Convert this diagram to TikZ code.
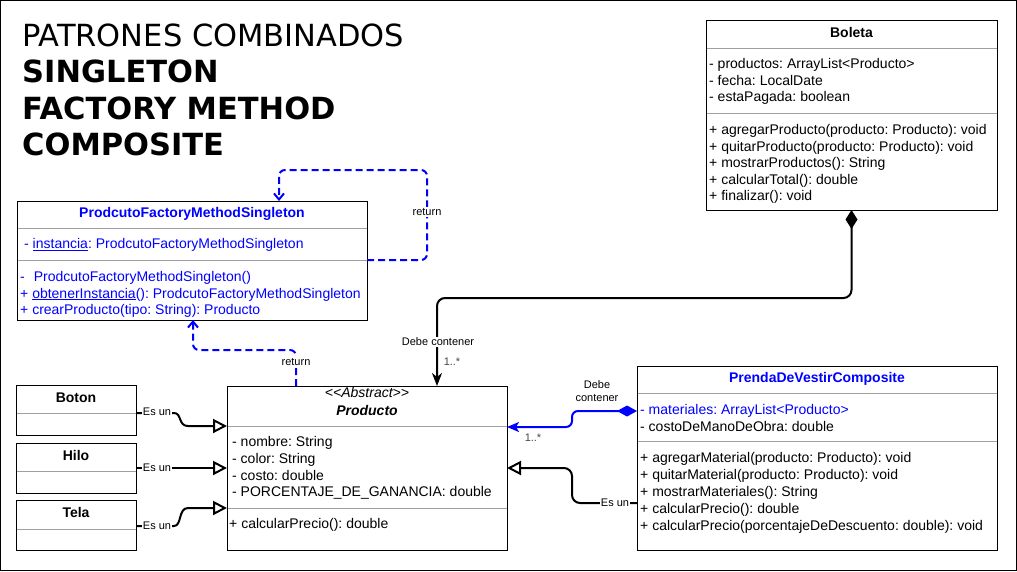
\documentclass[tikz,border=0pt]{standalone}
\usepackage{fontspec}
\setmainfont{Liberation Sans}
\newfontfamily\titlefont{DejaVu Sans}
\usetikzlibrary{arrows.meta}
\definecolor{umlblue}{RGB}{0,0,255}
\definecolor{sepgray}{RGB}{160,160,160}
\definecolor{multgray}{RGB}{70,70,70}
\frenchspacing
\begin{document}
\begin{tikzpicture}[x=1pt,y=-1pt,
  cls/.style={draw=black,line width=1pt,anchor=north west,inner sep=0pt,outer sep=0pt,fill=white},
  sepline/.style={draw=sepgray,line width=1pt},
  txt/.style={anchor=base west,inner sep=0pt,font=\fontsize{14}{16}\selectfont},
  ctxt/.style={anchor=base,inner sep=0pt,font=\fontsize{14}{16}\selectfont\bfseries},
  lbl/.style={font=\fontsize{11}{13}\selectfont,fill=white,inner sep=1pt,align=center},
  mult/.style={font=\fontsize{11}{13}\selectfont,text=multgray,inner sep=1pt},
  blkline/.style={draw=black,line width=2pt},
  bluedash/.style={draw=umlblue,line width=2pt,dash pattern=on 7pt off 4pt,rounded corners=6pt},
  genarrow/.style={-{Triangle[open,length=14pt,width=14pt]}},
  vee/.style={-{Straight Barb[length=6pt,width=10pt]}},
  ttl/.style={anchor=base west,inner sep=0pt,font=\titlefont\fontsize{30.5}{33}\selectfont},
  ttlb/.style={anchor=base west,inner sep=0pt,font=\titlefont\bfseries\fontsize{30.5}{33}\selectfont}
]
\useasboundingbox (0,0) rectangle (1017,571);
\node[draw=black,line width=1pt,anchor=north west,inner sep=0pt,outer sep=0pt,minimum width=1016pt,minimum height=570pt] (frame) at (0.5,0.5) {};

% Title
\node[ttl] (t1) at (22,46) {PATRONES COMBINADOS};
\node[ttlb] (t2) at (22,82) {SINGLETON};
\node[ttlb] (t3) at (22,119) {FACTORY METHOD};
\node[ttlb] (t4) at (22,155) {COMPOSITE};

% Boxes
\node[cls,minimum width=291pt,minimum height=190pt] (boleta) at (706,20) {};
\node[cls,minimum width=350pt,minimum height=119pt] (sing) at (17,201) {};
\node[cls,minimum width=280pt,minimum height=164pt] (prod) at (227,386) {};
\node[cls,minimum width=120pt,minimum height=50pt] (boton) at (16,385) {};
\node[cls,minimum width=120pt,minimum height=50pt] (hilo) at (16,443) {};
\node[cls,minimum width=120pt,minimum height=50pt] (tela) at (16,500) {};
\node[cls,minimum width=360pt,minimum height=184pt] (prenda) at (637,366) {};

% Separators
\draw[sepline] (706.5,48) -- (996.5,48);
\draw[sepline] (706.5,113) -- (996.5,113);
\draw[sepline] (17.5,228) -- (366.5,228);
\draw[sepline] (17.5,260) -- (366.5,260);
\draw[sepline] (227.5,426) -- (506.5,426);
\draw[sepline] (227.5,508) -- (506.5,508);
\draw[sepline] (16.5,413) -- (135.5,413);
\draw[sepline] (16.5,471) -- (135.5,471);
\draw[sepline] (16.5,529) -- (135.5,529);
\draw[sepline] (637.5,393) -- (996.5,393);
\draw[sepline] (637.5,441) -- (996.5,441);

% Boleta
\node[ctxt] (boletaT) at (851.5,37) {Boleta};
\foreach \t [count=\i] in {- productos: ArrayList<Producto>, - fecha: LocalDate, - estaPagada: boolean}
  \node[txt,name=batt\i] at (709,{68.5+(\i-1)*16.5}) {\t};
\foreach \t [count=\i] in {+ agregarProducto(producto: Producto): void, + quitarProducto(producto: Producto): void, + mostrarProductos(): String, + calcularTotal(): double, + finalizar(): void}
  \node[txt,name=bmet\i] at (709,{134.5+(\i-1)*16.5}) {\t};

% Singleton
\node[ctxt,text=umlblue] (singT) at (192,217) {ProdcutoFactoryMethodSingleton};
\node[txt,text=umlblue] (satt1) at (24,248.5) {- \underline{instancia}: ProdcutoFactoryMethodSingleton};
\node[txt,text=umlblue] (smet1) at (20,281.5) {-\hspace{9pt}ProdcutoFactoryMethodSingleton()};
\node[txt,text=umlblue] (smet2) at (20,298) {+ \underline{obtenerInstancia}(): ProdcutoFactoryMethodSingleton};
\node[txt,text=umlblue] (smet3) at (20,314.5) {+ crearProducto(tipo: String): Producto};

% Producto
\node[anchor=base,inner sep=0pt,font=\fontsize{14}{16}\selectfont\itshape] (prodS) at (367,397.5) {<{}<Abstract>{}>};
\node[ctxt,font=\fontsize{14}{16}\selectfont\bfseries\itshape] (prodT) at (367,415.5) {Producto};
\foreach \t [count=\i] in {- nombre: String, - color: String, - costo: double, - PORCENTAJE\_DE\_GANANCIA: double}
  \node[txt,name=patt\i] at (232,{446.5+(\i-1)*16.8}) {\t};
\node[txt] (pmet1) at (229,528.5) {+ calcularPrecio(): double};

% Small classes
\node[ctxt] (botonT) at (76,402) {Boton};
\node[ctxt] (hiloT) at (76,460) {Hilo};
\node[ctxt] (telaT) at (76,517) {Tela};

% Prenda
\node[ctxt,text=umlblue] (prendaT) at (817,382) {PrendaDeVestirComposite};
\node[txt,text=umlblue] (pratt1) at (640,414) {- materiales: ArrayList<Producto>};
\node[txt] (pratt2) at (640,431) {- costoDeManoDeObra: double};
\foreach \t [count=\i] in {+ agregarMaterial(producto: Producto): void, + quitarMaterial(producto: Producto): void, + mostrarMateriales(): String, + calcularPrecio(): double, + calcularPrecio(porcentajeDeDescuento: double): void}
  \node[txt,name=prmet\i] at (640,{462+(\i-1)*17}) {\t};

% Connectors
% Boleta -> Producto (composition)
\draw[blkline,rounded corners=8pt,{Diamond[length=19pt,width=12pt]}-{Stealth[length=13pt,width=10pt,inset=4pt]}]
  (boleta.south) |- (437,298) -- ([xshift=210pt]prod.north west);
\node[lbl] (lbDebe1) at (438,342) {Debe contener};
\node[mult] (m1) at (452,362) {1..*};

% Prenda -> Producto (blue composition)
\draw[draw=umlblue,line width=2pt,rounded corners=6pt,{Diamond[length=20pt,width=11pt,umlblue]}-{Stealth[length=12pt,width=10pt,inset=3pt,umlblue]}]
  ([yshift=-45pt]prenda.north west) -| (572,427) -- ([yshift=-41pt]prod.north east);
\node[lbl,fill=none] (lbDebe2) at (597,391) {Debe\\contener};
\node[mult] (m2) at (533,438) {1..*};

% Prenda -> Producto (generalization)
\draw[blkline,rounded corners=8pt,genarrow]
  ([yshift=-137pt]prenda.north west) -| (572,468) -- ([yshift=-82pt]prod.north east);
\node[lbl] (lbEs4) at (615,503) {Es un};

% Boton, Hilo, Tela -> Producto
\draw[blkline,genarrow] ([yshift=-28pt]boton.north east) -- (174,413) .. controls (182,413) and (178,426) .. (188,426) -- ([yshift=-40pt]prod.north west);
\draw[blkline,genarrow] ([yshift=-25pt]hilo.north east) -- ([yshift=-82pt]prod.north west);
\draw[blkline,genarrow] ([yshift=-26pt]tela.north east) -- (174,526) .. controls (182,526) and (178,508) .. (188,508) -- ([yshift=-122pt]prod.north west);
\node[lbl] (lbEs1) at (157,412) {Es un};
\node[lbl] (lbEs2) at (157,468) {Es un};
\node[lbl] (lbEs3) at (157,526) {Es un};

% Singleton self return
\draw[bluedash,vee] ([yshift=-59pt]sing.north east) -| (427,170) -| ([xshift=262pt]sing.north west);
\node[lbl] (lbRet1) at (427,212) {return};

% Producto -> Singleton return
\draw[bluedash,vee] ([xshift=69pt]prod.north west) |- (193,350) -- ([xshift=176pt]sing.south west);
\node[lbl] (lbRet2) at (296,362) {return};
\end{tikzpicture}
\end{document}
